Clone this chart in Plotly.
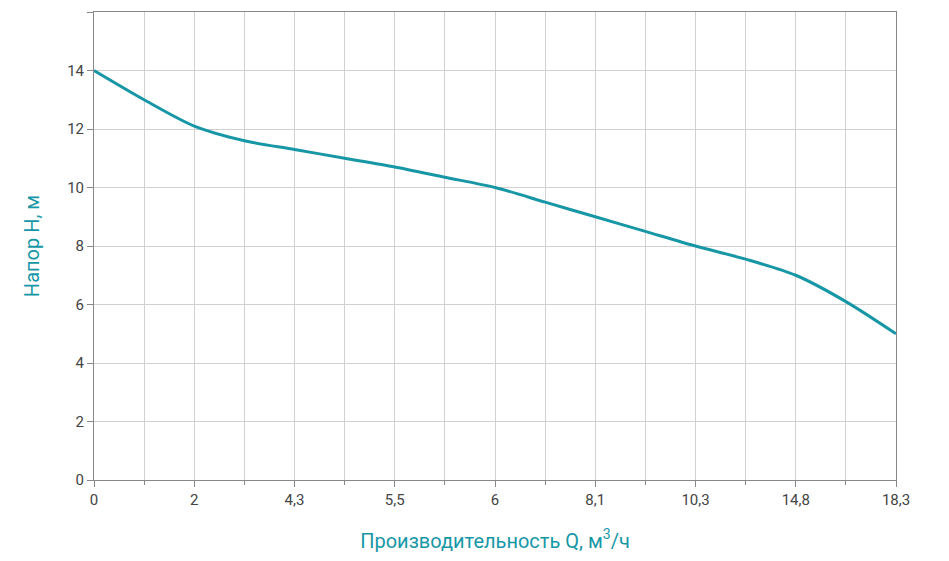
import plotly.graph_objects as go

x_idx = list(range(17))
head = [14.0, 13.0, 12.1, 11.6, 11.3, 11.0, 10.7, 10.35, 10.0, 9.5, 9.0, 8.5, 8.0, 7.55, 7.0, 6.1, 5.0]
tick_pos = [0, 2, 4, 6, 8, 10, 12, 14, 16]
tick_labels = ["0", "2", "4,3", "5,5", "6", "8,1", "10,3", "14,8", "18,3"]
teal = "#1797a6"

fig = go.Figure(go.Scatter(x=x_idx, y=head, mode="lines",
                           line=dict(color=teal, width=3, shape="spline", smoothing=0.8)))
fig.update_layout(
    width=949, height=561, margin=dict(l=86, r=61, t=4, b=89, autoexpand=False),
    plot_bgcolor="white", paper_bgcolor="white", showlegend=False,
    font=dict(family="Roboto", size=15, color="#444"),
)
fig.update_xaxes(range=[0, 16], tickvals=tick_pos, ticktext=tick_labels,
                 showgrid=True, gridcolor="#d0d0d0", gridwidth=1,
                 minor=dict(dtick=1, showgrid=True, gridcolor="#d0d0d0", ticks="outside", ticklen=4, tickcolor="#888"),
                 ticks="outside", ticklen=6, tickcolor="#888",
                 showline=True, linecolor="#888", mirror=True, zeroline=False,
                 title=dict(text="Производительность Q, м<sup>3</sup>/ч", font=dict(color=teal, size=20), standoff=25))
fig.update_yaxes(range=[0, 16], dtick=2, showgrid=True, gridcolor="#d0d0d0",
                 ticks="outside", ticklen=6, tickcolor="#888",
                 showline=True, linecolor="#888", mirror=True, zeroline=False,
                 title=dict(text="Напор H, м", font=dict(color=teal, size=20), standoff=22))
fig.write_html("out.html")
